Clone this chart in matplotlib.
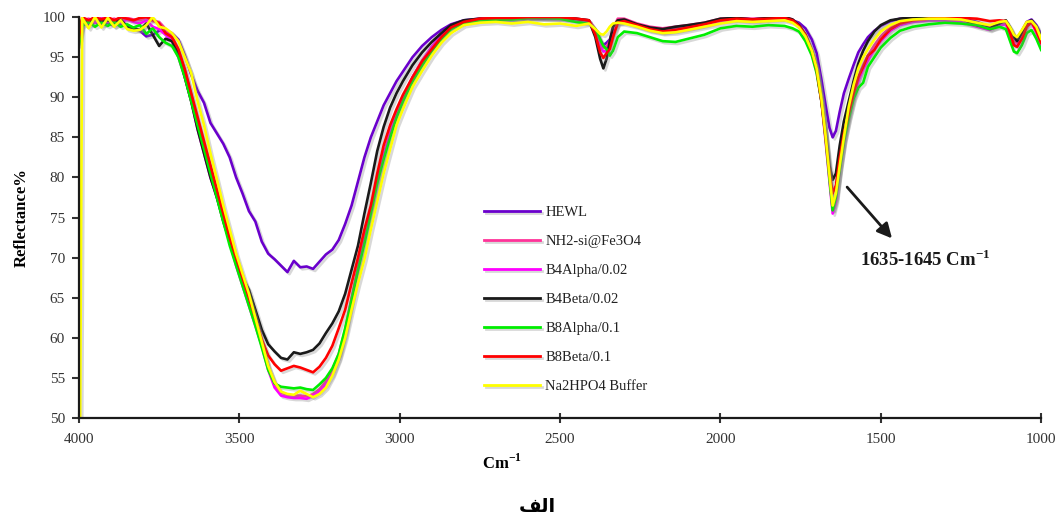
import matplotlib
matplotlib.use("Agg")
import matplotlib.pyplot as plt
import matplotlib.patheffects as pe
import numpy as np

plt.rcParams['font.family'] = ['Liberation Serif', 'DejaVu Serif']
plt.rcParams['mathtext.fontset'] = 'custom'
plt.rcParams['mathtext.rm'] = 'Liberation Serif'
plt.rcParams['mathtext.bf'] = 'Liberation Serif:bold'

wavenumber = [
    4000, 3990, 3970, 3950, 3930, 3910, 3890, 3870, 3850, 3830,
    3810, 3790, 3770, 3750, 3730, 3710, 3690, 3670, 3650, 3630,
    3610, 3590, 3570, 3550, 3530, 3510, 3490, 3470, 3450, 3430,
    3410, 3390, 3370, 3350, 3330, 3310, 3290, 3270, 3250, 3230,
    3210, 3190, 3170, 3150, 3130, 3110, 3090, 3070, 3050, 3030,
    3010, 2990, 2960, 2930, 2900, 2870, 2840, 2800, 2750, 2700,
    2650, 2600, 2550, 2500, 2450, 2410, 2390, 2375, 2365, 2355,
    2345, 2335, 2320, 2300, 2260, 2220, 2180, 2140, 2100, 2050,
    2000, 1950, 1900, 1850, 1800, 1775, 1755, 1735, 1715, 1700,
    1685, 1672, 1660, 1650, 1640, 1628, 1615, 1600, 1585, 1570,
    1555, 1540, 1520, 1500, 1470, 1440, 1400, 1350, 1300, 1250,
    1200, 1160, 1130, 1110, 1095, 1085, 1075, 1060, 1045, 1030,
    1015, 1000,
]

hewl = [
    97.5, 99.2, 99.0, 99.4, 99.0, 99.3, 98.9, 99.2, 99.0, 98.6,
    98.3, 97.6, 97.8, 98.3, 98.3, 98.0, 97.2, 95.2, 92.8, 90.8,
    89.3, 86.8, 85.5, 84.2, 82.5, 80.0, 78.0, 75.8, 74.5, 72.0,
    70.5, 69.8, 69.0, 68.2, 69.6, 68.8, 68.9, 68.6, 69.5, 70.4,
    71.0, 72.2, 74.2, 76.5, 79.5, 82.5, 85.0, 87.0, 89.0, 90.5,
    92.0, 93.2, 95.0, 96.4, 97.5, 98.4, 99.1, 99.6, 99.8, 99.7,
    99.8, 99.9, 99.8, 99.9, 99.6, 99.4, 98.5, 97.2, 96.5, 96.8,
    97.2, 98.3, 99.4, 99.6, 99.0, 98.6, 98.5, 98.7, 98.9, 99.2,
    99.7, 99.9, 99.7, 99.9, 99.8, 99.6, 99.3, 98.6, 97.2, 95.5,
    92.2, 89.0, 86.2, 85.0, 85.8, 88.2, 90.5, 92.3, 94.0, 95.6,
    96.6, 97.5, 98.3, 98.9, 99.5, 99.8, 99.9, 99.9, 99.9, 99.9,
    99.4, 98.8, 99.3, 99.2, 98.5, 97.8, 97.4, 98.3, 99.4, 99.7,
    99.0, 97.8,
]

nh2_si_fe3o4 = [
    97.0, 99.6, 99.8, 99.5, 99.9, 99.6, 99.8, 99.5, 99.9, 99.7,
    99.6, 99.9, 99.5, 99.4, 98.5, 97.5, 95.8, 93.3, 90.3, 87.0,
    84.0, 81.0, 78.0, 75.3, 72.3, 69.5, 67.0, 64.5, 62.0, 59.5,
    56.5, 54.3, 53.2, 52.9, 52.8, 52.8, 52.7, 53.0, 53.6, 54.6,
    56.0, 58.0, 61.0, 65.0, 68.8, 72.5, 76.0, 79.5, 82.8, 85.5,
    88.0, 90.0, 92.5, 94.6, 96.3, 97.8, 98.8, 99.5, 99.8, 99.9,
    99.9, 100.0, 100.0, 99.9, 99.8, 99.6, 98.5, 96.8, 96.2, 96.3,
    97.0, 98.6, 99.8, 99.8, 99.2, 98.8, 98.6, 98.8, 99.0, 99.3,
    99.8, 99.9, 99.8, 99.9, 100.0, 99.7, 99.0, 97.8, 95.8, 93.5,
    89.8, 85.0, 80.0, 76.0, 77.5, 81.5, 85.0, 88.0, 90.5, 92.5,
    94.0, 95.2, 96.5, 97.6, 98.8, 99.4, 99.7, 99.8, 99.9, 99.8,
    99.2, 98.8, 99.3, 99.4, 98.0, 97.0, 96.8, 97.8, 99.2, 99.5,
    98.5, 97.0,
]

b4alpha = [
    96.5, 99.4, 99.7, 99.3, 99.8, 99.4, 99.6, 99.3, 99.7, 99.4,
    99.2, 99.6, 98.8, 98.5, 97.8, 97.0, 95.0, 92.5, 89.5, 86.0,
    83.0, 80.0, 77.5, 75.0, 72.0, 69.0, 66.5, 64.0, 61.5, 59.0,
    56.0, 53.8, 52.8, 52.6, 52.5, 52.5, 52.4, 52.8, 53.3, 54.2,
    55.5, 57.5, 60.5, 64.5, 68.5, 72.3, 76.0, 79.5, 82.8, 85.5,
    88.0, 90.0, 92.5, 94.5, 96.3, 97.8, 98.8, 99.4, 99.7, 99.8,
    99.8, 99.9, 99.9, 99.8, 99.6, 99.4, 98.2, 96.3, 95.7, 95.8,
    96.6, 98.0, 99.2, 99.4, 98.9, 98.4, 98.1, 98.3, 98.6, 99.0,
    99.5, 99.7, 99.5, 99.7, 99.8, 99.5, 98.8, 97.6, 95.5, 93.2,
    89.5, 84.5, 79.5, 75.5, 77.0, 81.0, 84.5, 87.5, 90.0, 92.0,
    93.5, 94.6, 96.0, 97.0, 98.3, 99.0, 99.4, 99.6, 99.6, 99.4,
    98.8, 98.4, 99.0, 99.1, 97.6, 96.6, 96.3, 97.5, 98.9, 99.3,
    98.0, 96.5,
]

b4beta = [
    98.5, 99.7, 99.4, 99.8, 99.5, 99.6, 99.3, 99.7, 98.8, 98.6,
    98.4, 99.2, 97.8, 96.4, 97.3, 97.0, 95.5, 92.5, 89.5, 86.0,
    83.0, 80.0, 77.5, 74.5, 72.0, 69.5, 67.5, 66.0, 63.5, 61.0,
    59.2, 58.3, 57.5, 57.3, 58.2, 58.0, 58.2, 58.5, 59.3, 60.6,
    61.8, 63.3, 65.5, 68.5, 71.5, 75.5, 79.3, 83.3, 86.3, 88.7,
    90.5, 92.0, 94.0, 95.6, 96.9, 98.0, 99.0, 99.6, 99.8, 99.7,
    99.8, 99.9, 99.9, 99.9, 99.8, 99.6, 97.5, 94.8, 93.6, 94.8,
    97.0, 98.8, 99.6, 99.7, 99.1, 98.7, 98.5, 98.8, 99.0, 99.3,
    99.8, 99.9, 99.7, 99.9, 100.0, 99.7, 99.0, 97.8, 95.8, 93.5,
    89.5, 85.5, 81.5, 79.7, 80.5, 84.0, 87.0, 89.5, 92.0, 94.2,
    95.8, 97.0, 98.2, 99.0, 99.6, 99.8, 100.0, 99.9, 99.9, 99.8,
    99.0, 98.6, 99.2, 99.6, 98.6, 97.5, 97.0, 98.0, 99.3, 99.6,
    98.8, 97.5,
]

b8alpha = [
    96.5, 98.9, 99.4, 98.8, 99.3, 98.9, 99.4, 98.8, 99.1, 98.7,
    99.0, 97.9, 98.6, 97.5, 96.8, 96.4, 95.0, 92.5, 89.5, 86.5,
    83.5, 80.5, 77.5, 74.5, 71.5, 69.0, 66.5, 64.0, 61.5, 58.8,
    56.0, 54.3, 53.9, 53.8, 53.7, 53.8, 53.6, 53.5, 54.2, 55.0,
    56.2, 58.0, 61.2, 64.8, 68.5, 71.8, 75.5, 79.3, 82.3, 85.0,
    87.5, 89.5, 92.0, 94.0, 95.8, 97.3, 98.5, 99.3, 99.6, 99.7,
    99.7, 99.9, 99.9, 99.8, 99.4, 99.2, 98.5, 97.2, 96.4, 96.0,
    95.2, 95.8, 97.5, 98.2, 98.0, 97.5, 97.0, 96.9, 97.3, 97.8,
    98.6, 98.9, 98.8, 99.0, 98.9, 98.6, 98.2, 97.0, 95.2, 93.0,
    89.5, 84.8, 79.8, 75.9, 77.5, 81.0, 84.5, 87.3, 89.8, 91.2,
    91.8, 93.8, 95.0, 96.2, 97.4, 98.3, 98.8, 99.1, 99.3, 99.2,
    99.0, 98.5, 98.8, 98.5, 96.8, 95.7, 95.5, 96.5, 98.0, 98.4,
    97.3, 95.9,
]

b8beta = [
    97.5, 100.0, 99.6, 100.0, 99.7, 100.0, 99.6, 100.0, 99.8, 99.6,
    99.9, 100.0, 99.7, 99.2, 98.0, 97.5, 96.0, 93.5, 90.5, 87.5,
    84.5, 81.5, 78.5, 75.5, 72.5, 70.0, 67.5, 65.0, 62.5, 59.8,
    57.8, 56.7, 55.9, 56.2, 56.5, 56.3, 56.0, 55.7, 56.4, 57.5,
    59.0, 61.2, 63.5, 66.8, 70.0, 73.5, 76.5, 80.5, 84.0, 86.5,
    88.5, 90.3, 92.5, 94.5, 96.0, 97.5, 98.7, 99.4, 99.8, 99.9,
    99.9, 100.0, 100.0, 100.0, 99.8, 99.6, 97.8, 95.6, 94.9, 95.5,
    96.0, 97.5, 99.3, 99.5, 99.0, 98.5, 98.2, 98.4, 98.7, 99.1,
    99.6, 99.8, 99.7, 99.8, 99.9, 99.6, 98.9, 97.8, 95.8, 93.5,
    89.5, 85.0, 80.5, 78.0, 79.0, 82.5, 85.5, 88.0, 90.5, 92.5,
    93.8, 95.2, 95.9, 97.2, 98.5, 99.2, 99.6, 99.8, 99.9, 99.9,
    99.8, 99.5, 99.6, 99.5, 97.8, 96.5, 96.3, 97.3, 98.8, 99.4,
    98.3, 96.8,
]

na2hpo4_buffer = [
    20.0, 99.9, 98.6, 100.0, 98.7, 99.9, 98.8, 99.6, 98.5, 98.3,
    98.4, 99.0, 100.0, 98.8, 98.6, 98.0, 97.0, 95.0, 93.0, 89.5,
    86.5, 83.0, 79.8, 76.5, 73.5, 70.5, 68.0, 65.5, 62.5, 59.5,
    56.5, 54.5, 53.3, 53.0, 52.9, 53.4, 53.0, 52.6, 53.0, 53.8,
    55.3, 57.3, 60.0, 63.5, 66.8, 69.8, 73.5, 77.0, 80.5, 83.5,
    86.5, 88.5, 91.3, 93.3, 95.2, 96.8, 98.0, 99.0, 99.3, 99.4,
    99.2, 99.4, 99.1, 99.2, 98.9, 99.2, 98.5, 97.9, 97.8, 98.2,
    98.8, 99.2, 99.3, 99.2, 98.8, 98.3, 98.0, 98.1, 98.4, 98.8,
    99.2, 99.5, 99.4, 99.5, 99.6, 99.3, 98.7, 97.6, 95.8, 93.6,
    89.8, 85.2, 80.3, 76.5, 78.0, 81.5, 85.0, 88.8, 91.5, 93.6,
    95.0, 96.0, 97.2, 98.2, 99.0, 99.5, 99.7, 99.8, 99.8, 99.7,
    99.3, 99.0, 99.4, 99.5, 98.6, 97.8, 97.5, 98.4, 99.4, 99.5,
    98.8, 97.3,
]

series_labels = ['HEWL', 'NH2-si@Fe3O4', 'B4Alpha/0.02', 'B4Beta/0.02',
                 'B8Alpha/0.1', 'B8Beta/0.1', 'Na2HPO4 Buffer']
series_values = [hewl, nh2_si_fe3o4, b4alpha, b4beta, b8alpha, b8beta, na2hpo4_buffer]
series_colors = ['#6A00CC', '#FF3399', '#FF00FF', '#1A1A1A', '#00EE00', '#FF0000', '#FFFF00']

x_ticks = [4000, 3500, 3000, 2500, 2000, 1500, 1000]
y_ticks = [50, 55, 60, 65, 70, 75, 80, 85, 90, 95, 100]

fig = plt.figure(figsize=(10.57, 5.18), dpi=100)
ax = fig.add_axes([0.0747, 0.193, 0.9103, 0.774])

shadow = [pe.SimpleLineShadow(offset=(1.5, -1.5), shadow_color='#808080', alpha=0.3),
          pe.Normal()]
for lab, vals, col in zip(series_labels, series_values, series_colors):
    ax.plot(wavenumber, vals, color=col, lw=1.9, label=lab, path_effects=shadow,
            solid_joinstyle='round')

ax.set_xlim(4000, 1000)
ax.set_ylim(50, 100)
ax.set_xticks(x_ticks)
ax.set_yticks(y_ticks)
ax.tick_params(axis='both', labelsize=11, colors='#333333', width=1.5)
ax.tick_params(axis='y', direction='out', length=5, pad=5)
ax.tick_params(axis='x', direction='inout', length=7, pad=7)
for s in ['top', 'right']:
    ax.spines[s].set_visible(False)
for s in ['left', 'bottom']:
    ax.spines[s].set_linewidth(1.6)
    ax.spines[s].set_color('#1a1a1a')

ax.set_ylabel('Reflectance%', fontsize=12, fontweight='bold', labelpad=9)
ax.set_xlabel(r'Cm$^{\mathbf{-1}}$', fontsize=12, fontweight='bold')
ax.xaxis.set_label_coords(0.44, -0.088)

leg = ax.legend(loc='upper left', bbox_to_anchor=(0.4148, 0.544), frameon=False,
                fontsize=10.5, handlelength=3.85, handletextpad=0.35, labelspacing=1.08,
                borderaxespad=0)
for line in leg.get_lines():
    line.set_linewidth(2.0)
for t in leg.get_texts():
    t.set_color('#222222')

ax.annotate('', xy=(1465, 72.4), xytext=(1605, 78.8),
            arrowprops=dict(arrowstyle='-|>', color='#1a1a1a', lw=2,
                            mutation_scale=22, shrinkA=0, shrinkB=0))
ax.text(1362, 69.8, r'1635-1645 Cm$^{\mathbf{-1}}$', fontsize=13.5, fontweight='bold',
        ha='center', va='center', color='#1a1a1a')

fig.text(0.508, 0.022, '\uFED2\uFEDF\uFE8D', fontsize=14, fontweight='bold',
         ha='center', va='center', family=['DejaVu Sans'])

fig.savefig('out.png', dpi=100)
